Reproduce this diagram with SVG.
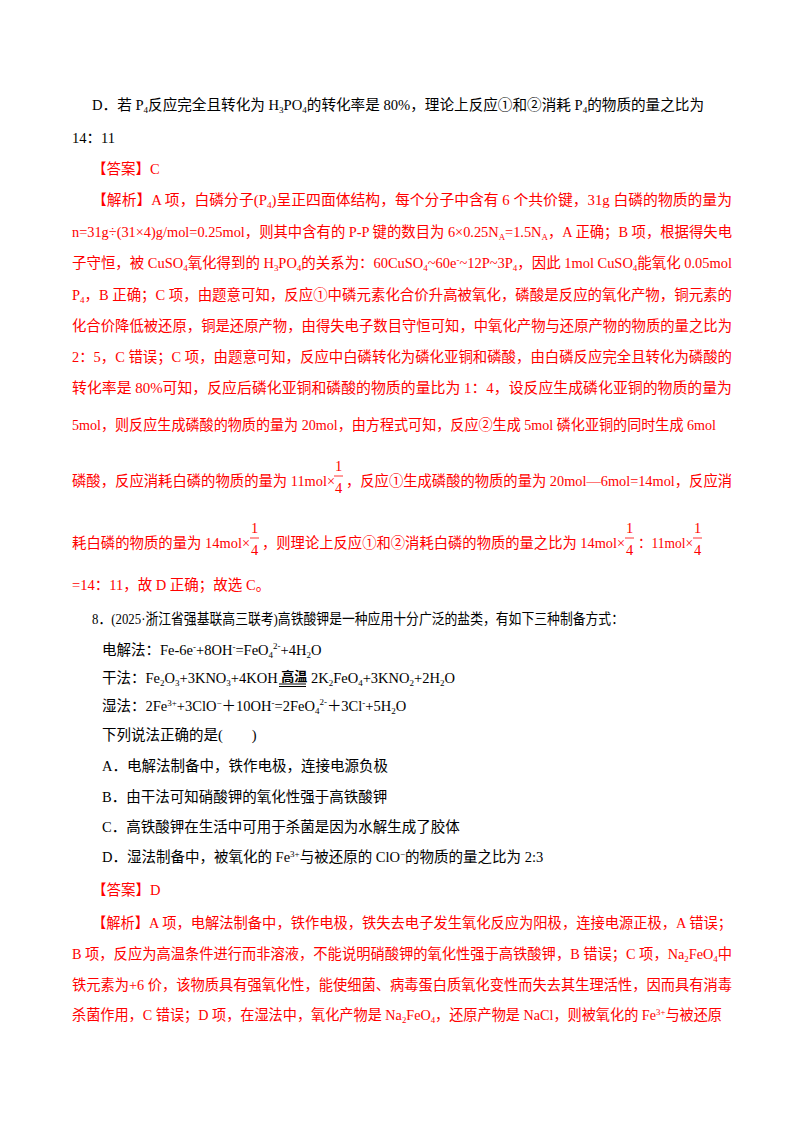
<svg xmlns="http://www.w3.org/2000/svg" width="800" height="1132" viewBox="0 0 800 1132">
<style>
text{font-family:"Liberation Serif","Noto Sans CJK SC",serif;font-size:14.5px;fill:#000}
.r{fill:#ff0000}
.s{font-size:9px}
.f{font-size:14.5px}
line{stroke:#ff0000;stroke-width:0.8}
</style>
<rect width="800" height="1132" fill="#fff"/>
<g id="q7">
<text x="92" y="110" textLength="612" lengthAdjust="spacingAndGlyphs">D．若 P<tspan class="s" dy="3">4</tspan><tspan dy="-3">反应完全且转化为 H</tspan><tspan class="s" dy="3">3</tspan><tspan dy="-3">PO</tspan><tspan class="s" dy="3">4</tspan><tspan dy="-3">的转化率是 80%，理论上反应①和②消耗 P</tspan><tspan class="s" dy="3">4</tspan><tspan dy="-3">的物质的量之比为</tspan></text>
<text x="72" y="143">14：11</text>
<text class="r" x="92" y="174">【答案】C</text>
<text class="r" x="92" y="205" textLength="640" lengthAdjust="spacingAndGlyphs">【解析】A 项，白磷分子(P<tspan class="s" dy="3">4</tspan><tspan dy="-3">)呈正四面体结构，每个分子中含有 6 个共价键，31g 白磷的物质的量为</tspan></text>
<text class="r" x="72" y="237" textLength="660" lengthAdjust="spacingAndGlyphs">n=31g÷(31×4)g/mol=0.25mol，则其中含有的 P-P 键的数目为 6×0.25N<tspan class="s" dy="3">A</tspan><tspan dy="-3">=1.5N</tspan><tspan class="s" dy="3">A</tspan><tspan dy="-3">，A 正确；B 项，根据得失电</tspan></text>
<text class="r" x="72" y="268" textLength="660" lengthAdjust="spacingAndGlyphs">子守恒，被 CuSO<tspan class="s" dy="3">4</tspan><tspan dy="-3">氧化得到的 H</tspan><tspan class="s" dy="3">3</tspan><tspan dy="-3">PO</tspan><tspan class="s" dy="3">4</tspan><tspan dy="-3">的关系为：60CuSO</tspan><tspan class="s" dy="3">4</tspan><tspan dy="-3">~60e</tspan><tspan class="s" dy="-5">-</tspan><tspan dy="5">~12P~3P</tspan><tspan class="s" dy="3">4</tspan><tspan dy="-3">，因此 1mol CuSO</tspan><tspan class="s" dy="3">4</tspan><tspan dy="-3">能氧化 0.05mol</tspan></text>
<text class="r" x="72" y="300" textLength="660" lengthAdjust="spacingAndGlyphs">P<tspan class="s" dy="3">4</tspan><tspan dy="-3">，B 正确；C 项，由题意可知，反应①中磷元素化合价升高被氧化，磷酸是反应的氧化产物，铜元素的</tspan></text>
<text class="r" x="72" y="331" textLength="660" lengthAdjust="spacingAndGlyphs">化合价降低被还原，铜是还原产物，由得失电子数目守恒可知，中氧化产物与还原产物的物质的量之比为</text>
<text class="r" x="72" y="362" textLength="660" lengthAdjust="spacingAndGlyphs">2：5，C 错误；C 项，由题意可知，反应中白磷转化为磷化亚铜和磷酸，由白磷反应完全且转化为磷酸的</text>
<text class="r" x="72" y="393" textLength="660" lengthAdjust="spacingAndGlyphs">转化率是 80%可知，反应后磷化亚铜和磷酸的物质的量比为 1：4，设反应生成磷化亚铜的物质的量为</text>
<text class="r" x="72" y="430" textLength="644" lengthAdjust="spacingAndGlyphs">5mol，则反应生成磷酸的物质的量为 20mol，由方程式可知，反应②生成 5mol 磷化亚铜的同时生成 6mol</text>
<text class="r" x="72" y="486" textLength="263" lengthAdjust="spacingAndGlyphs">磷酸，反应消耗白磷的物质的量为 11mol×</text>
<text class="r f" x="335" y="471">1</text><line x1="334" y1="476" x2="343" y2="476"/><text class="r f" x="335" y="493">4</text>
<text class="r" x="346" y="486" textLength="386" lengthAdjust="spacingAndGlyphs">，反应①生成磷酸的物质的量为 20mol—6mol=14mol，反应消</text>
<text class="r" x="72" y="548" textLength="178" lengthAdjust="spacingAndGlyphs">耗白磷的物质的量为 14mol×</text>
<text class="r f" x="251" y="533">1</text><line x1="250" y1="538" x2="259" y2="538"/><text class="r f" x="251" y="555">4</text>
<text class="r" x="262" y="548" textLength="363" lengthAdjust="spacingAndGlyphs">，则理论上反应①和②消耗白磷的物质的量之比为 14mol×</text>
<text class="r f" x="626" y="533">1</text><line x1="625" y1="538" x2="634" y2="538"/><text class="r f" x="626" y="555">4</text>
<text class="r" x="638" y="548" textLength="55" lengthAdjust="spacingAndGlyphs">：11mol×</text>
<text class="r f" x="694" y="533">1</text><line x1="693" y1="538" x2="702" y2="538"/><text class="r f" x="694" y="555">4</text>
<text class="r" x="72" y="590">=14：11，故 D 正确；故选 C。</text>
</g>
<g id="q8">
<text x="92" y="624" textLength="532" lengthAdjust="spacingAndGlyphs">8．(2025·浙江省强基联高三联考)高铁酸钾是一种应用十分广泛的盐类，有如下三种制备方式：</text>
<text x="102" y="655">电解法：Fe-6e<tspan class="s" dy="-5">-</tspan><tspan dy="5">+8OH</tspan><tspan class="s" dy="-5">-</tspan><tspan dy="5">=FeO</tspan><tspan class="s" dy="3">4</tspan><tspan class="s" dy="-9">2-</tspan><tspan dy="6">+4H</tspan><tspan class="s" dy="3">2</tspan><tspan dy="-3">O</tspan></text>
<text x="102" y="683">干法：Fe<tspan class="s" dy="3">2</tspan><tspan dy="-3">O</tspan><tspan class="s" dy="3">3</tspan><tspan dy="-3">+3KNO</tspan><tspan class="s" dy="3">3</tspan><tspan dy="-3">+4KOH </tspan><tspan font-size="13" font-weight="bold" dy="-2">高温</tspan><tspan dy="2"> 2K</tspan><tspan class="s" dy="3">2</tspan><tspan dy="-3">FeO</tspan><tspan class="s" dy="3">4</tspan><tspan dy="-3">+3KNO</tspan><tspan class="s" dy="3">2</tspan><tspan dy="-3">+2H</tspan><tspan class="s" dy="3">2</tspan><tspan dy="-3">O</tspan></text>
<line x1="279" y1="684" x2="306" y2="684" style="stroke:#000;stroke-width:1"/>
<line x1="279" y1="686.5" x2="306" y2="686.5" style="stroke:#000;stroke-width:1"/>
<text x="102" y="711">湿法：2Fe<tspan class="s" dy="-5">3+</tspan><tspan dy="5">+3ClO</tspan><tspan class="s" dy="-5">−</tspan><tspan dy="5">＋10OH</tspan><tspan class="s" dy="-5">-</tspan><tspan dy="5">=2FeO</tspan><tspan class="s" dy="3">4</tspan><tspan class="s" dy="-9">2-</tspan><tspan dy="6">＋3Cl</tspan><tspan class="s" dy="-5">-</tspan><tspan dy="5">+5H</tspan><tspan class="s" dy="3">2</tspan><tspan dy="-3">O</tspan></text>
<text x="102" y="740">下列说法正确的是(　　)</text>
<text x="102" y="771">A．电解法制备中，铁作电极，连接电源负极</text>
<text x="102" y="802">B．由干法可知硝酸钾的氧化性强于高铁酸钾</text>
<text x="102" y="832">C．高铁酸钾在生活中可用于杀菌是因为水解生成了胶体</text>
<text x="102" y="862">D．湿法制备中，被氧化的 Fe<tspan class="s" dy="-5">3+</tspan><tspan dy="5">与被还原的 ClO</tspan><tspan class="s" dy="-5">−</tspan><tspan dy="5">的物质的量之比为 2:3</tspan></text>
<text class="r" x="92" y="895">【答案】D</text>
<text class="r" x="92" y="928" textLength="640" lengthAdjust="spacingAndGlyphs">【解析】A 项，电解法制备中，铁作电极，铁失去电子发生氧化反应为阳极，连接电源正极，A 错误；</text>
<text class="r" x="72" y="959" textLength="660" lengthAdjust="spacingAndGlyphs">B 项，反应为高温条件进行而非溶液，不能说明硝酸钾的氧化性强于高铁酸钾，B 错误；C 项，Na<tspan class="s" dy="3">2</tspan><tspan dy="-3">FeO</tspan><tspan class="s" dy="3">4</tspan><tspan dy="-3">中</tspan></text>
<text class="r" x="72" y="990" textLength="660" lengthAdjust="spacingAndGlyphs">铁元素为+6 价，该物质具有强氧化性，能使细菌、病毒蛋白质氧化变性而失去其生理活性，因而具有消毒</text>
<text class="r" x="72" y="1020" textLength="650" lengthAdjust="spacingAndGlyphs">杀菌作用，C 错误；D 项，在湿法中，氧化产物是 Na<tspan class="s" dy="3">2</tspan><tspan dy="-3">FeO</tspan><tspan class="s" dy="3">4</tspan><tspan dy="-3">，还原产物是 NaCl，则被氧化的 Fe</tspan><tspan class="s" dy="-5">3+</tspan><tspan dy="5">与被还原</tspan></text>
</g>
</svg>
